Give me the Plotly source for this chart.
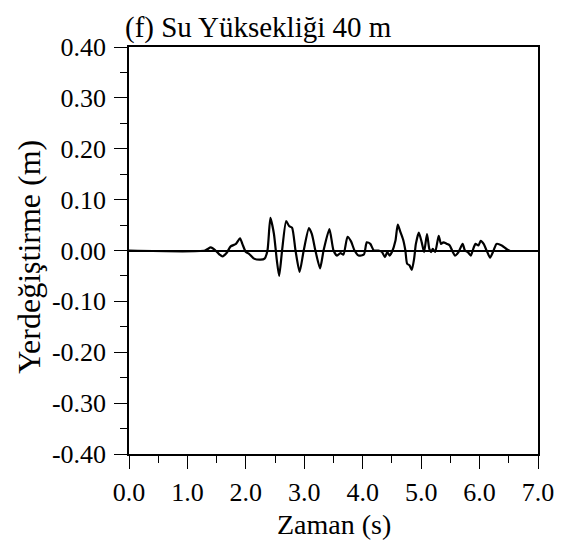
"""Displacement time history, panel (f)."""
import plotly.graph_objects as go

FONT = "Liberation Serif, Times New Roman, serif"

# time (s) and displacement (m)
time_s = [0.0, 1.30, 1.40, 1.48, 1.55, 1.60, 1.67, 1.74, 1.83, 1.90, 1.94, 2.00, 2.05, 2.14,
          2.25, 2.32, 2.37, 2.42, 2.48, 2.53, 2.57, 2.62, 2.69, 2.74, 2.79, 2.85, 2.92, 2.99,
          3.08, 3.13, 3.19, 3.27, 3.33, 3.43, 3.50, 3.56, 3.62, 3.67, 3.74, 3.80, 3.86, 3.93,
          4.02, 4.07, 4.13, 4.19, 4.27, 4.33, 4.38, 4.42, 4.46, 4.50, 4.56, 4.60, 4.64, 4.69,
          4.73, 4.76, 4.80, 4.84, 4.88, 4.91, 4.96, 5.01, 5.05, 5.10, 5.14, 5.17, 5.20, 5.24,
          5.30, 5.34, 5.38, 5.44, 5.49, 5.53, 5.58, 5.64, 5.71, 5.75, 5.80, 5.85, 5.90, 5.93,
          5.98, 6.02, 6.07, 6.12, 6.18, 6.24, 6.29, 6.38, 6.46, 6.52]
disp_m = [0.0, 0.0, 0.006, 0.0, -0.008, -0.0115, -0.005, 0.008, 0.013, 0.024, 0.013, -0.003,
          -0.006, -0.016, -0.018, -0.016, 0.0, 0.064, 0.033, -0.019, -0.050, 0.0, 0.058, 0.048,
          0.045, 0.0, -0.042, 0.0, 0.044, 0.032, 0.0, -0.035, 0.0, 0.042, 0.0, -0.010, -0.005,
          -0.008, 0.027, 0.018, 0.0, -0.010, -0.008, 0.016, 0.013, 0.0, 0.0, -0.003, -0.013,
          -0.003, -0.010, -0.003, 0.019, 0.051, 0.038, 0.022, 0.0, -0.026, -0.029, -0.038,
          -0.016, 0.013, 0.035, 0.016, -0.003, 0.032, 0.003, -0.003, 0.003, -0.003, 0.029,
          0.013, 0.016, 0.013, 0.010, 0.0, -0.010, -0.003, 0.013, 0.0, -0.003, -0.010, 0.006,
          0.013, 0.010, 0.019, 0.013, 0.0, -0.014, 0.0, 0.013, 0.010, 0.003, -0.001]

x_ticks = [0, 1, 2, 3, 4, 5, 6, 7]
x_labels = ["0.0", "1.0", "2.0", "3.0", "4.0", "5.0", "6.0", "7.0"]
y_ticks = [0.4, 0.3, 0.2, 0.1, 0.0, -0.1, -0.2, -0.3, -0.4]
y_labels = ["0.40", "0.30", "0.20", "0.10", "0.00", "-0.10", "-0.20", "-0.30", "-0.40"]

fig = go.Figure()
fig.add_trace(go.Scatter(x=time_s, y=disp_m, mode="lines",
                         line=dict(color="black", width=2.2, shape="spline", smoothing=0.6),
                         showlegend=False))

axis_common = dict(showline=True, linecolor="black", linewidth=1.5, mirror=True,
                   ticks="outside", ticklen=13, tickwidth=1.3, tickcolor="black",
                   showgrid=False, automargin=False,
                   tickfont=dict(family=FONT, size=26, color="black"))

fig.update_xaxes(range=[0, 7], tickvals=x_ticks, ticktext=x_labels, zeroline=False,
                 ticklabelstandoff=1,
                 minor=dict(dtick=0.5, ticks="outside", ticklen=7, tickcolor="black"),
                 **axis_common)
fig.update_yaxes(range=[-0.4, 0.4], tickvals=y_ticks, ticktext=y_labels,
                 zeroline=True, zerolinecolor="black", zerolinewidth=1.5,
                 ticklabelstandoff=3,
                 minor=dict(dtick=0.05, ticks="outside", ticklen=7, tickcolor="black"),
                 **axis_common)

fig.add_annotation(text="(f) Su Yüksekliği 40 m", xref="paper", yref="paper",
                   x=-0.015, y=1.049, xanchor="left", yanchor="middle", showarrow=False,
                   font=dict(family=FONT, size=29, color="black"))
fig.add_annotation(text="Zaman (s)", xref="paper", yref="paper",
                   x=0.5, y=-0.172, xanchor="center", yanchor="middle", showarrow=False,
                   font=dict(family=FONT, size=28, color="black"))
fig.add_annotation(text="Yerdeğiştirme (m)", xref="paper", yref="paper",
                   x=-0.245, y=0.484, xanchor="center", yanchor="middle", showarrow=False,
                   textangle=-90, font=dict(family=FONT, size=32, color="black"))

# the page body adds an 8px offset, so margins are shifted to compensate
fig.update_layout(width=573, height=540, plot_bgcolor="white", paper_bgcolor="white",
                  margin=dict(l=121, r=43, t=39, b=94))

fig.write_html("out.html")
